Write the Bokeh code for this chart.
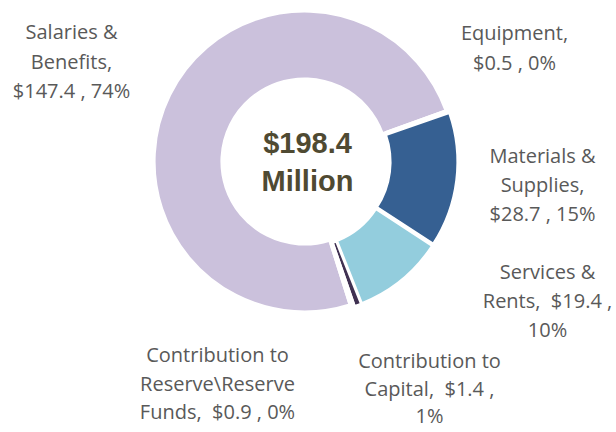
import math
from bokeh.plotting import figure
from bokeh.models import Range1d, ColumnDataSource
from bokeh.core.properties import value
from bokeh.embed import file_html
from bokeh.resources import INLINE

# ---- data ----
categories = ["Salaries & Benefits", "Equipment", "Materials & Supplies",
              "Services & Rents", "Contribution to Capital",
              "Contribution to Reserve\\Reserve Funds"]
amounts = [147.4, 0.5, 28.7, 19.4, 1.4, 0.9]          # $ million
percents = [74, 0, 15, 10, 1, 0]
total_label = ["$198.4", "Million"]
label_lines = [
    ["Salaries &", "Benefits,", "$147.4 , 74%"],
    ["Equipment,", "$0.5 , 0%"],
    ["Materials &", "Supplies,", "$28.7 , 15%"],
    ["Services &", "Rents,\u00a0 $19.4 ,", "10%"],
    ["Contribution to", "Capital,\u00a0 $1.4 ,", "1%"],
    ["Contribution to", "Reserve\\Reserve", "Funds,\u00a0 $0.9 , 0%"],
]

# ---- style / layout (positions in reference-picture pixels) ----
colors = ["#CBC1DC", "#FFFFFF", "#366092", "#93CDDD", "#403152", "#FFFFFF"]
explode = [0, 3, 3, 3, 3, 3]
W, H = 614, 430
OX, OY = 1, 1             # screen offset of plot origin
def dx(X): return X - OX
def dy(Y): return H - (Y - OY)

CX, CY = 305, 162
r_out, r_in = 150, 83
start_deg = -72.5
label_pos = [(72, 32), (515, 33), (543, 156), (548, 272), (430, 361), (218, 355)]
line_gap = [29.5, 29.5, 29.0, 29.0, 27.5, 28.5]

p = figure(width=W, height=H, output_backend="svg", toolbar_location=None,
           x_range=Range1d(0, W), y_range=Range1d(0, H), min_border=0)
p.axis.visible = False
p.grid.visible = False
p.outline_line_color = None
p.background_fill_color = "white"

total = sum(amounts)
starts, ends, xs, ys = [], [], [], []
a = math.radians(start_deg)
cx, cy = dx(CX), dy(CY)
for amt, ex in zip(amounts, explode):
    span = amt / total * 2 * math.pi
    s, e = a, a - span
    mid = (s + e) / 2
    starts.append(s)
    ends.append(e)
    xs.append(cx + ex * math.cos(mid))
    ys.append(cy + ex * math.sin(mid))
    a = e

src = ColumnDataSource(dict(x=xs, y=ys, start=starts, end=ends, color=colors,
                            cat=categories, amt=amounts, pct=percents))
p.annular_wedge(x="x", y="y", inner_radius=r_in, outer_radius=r_out,
                start_angle="start", end_angle="end", direction="clock",
                fill_color="color", line_color="white", line_width=2.2,
                source=src)

# slice labels
tx, ty, tt = [], [], []
for (lx, ly), lines, g in zip(label_pos, label_lines, line_gap):
    for i, t in enumerate(lines):
        tx.append(dx(lx))
        ty.append(dy(ly + i * g))
        tt.append(t)
p.text(x=tx, y=ty, text=tt, text_align="center", text_baseline="middle",
       text_font=value("Open Sans"), text_font_size="20px", text_color="#595959")

# centre label
p.text(x=[dx(308), dx(308)], y=[dy(143), dy(181)], text=total_label,
       text_align="center", text_baseline="middle",
       text_font=value("Liberation Sans"), text_font_style="bold",
       text_font_size="29px", text_color="#4F4A32")

open("out.html", "w").write(file_html(p, INLINE))
